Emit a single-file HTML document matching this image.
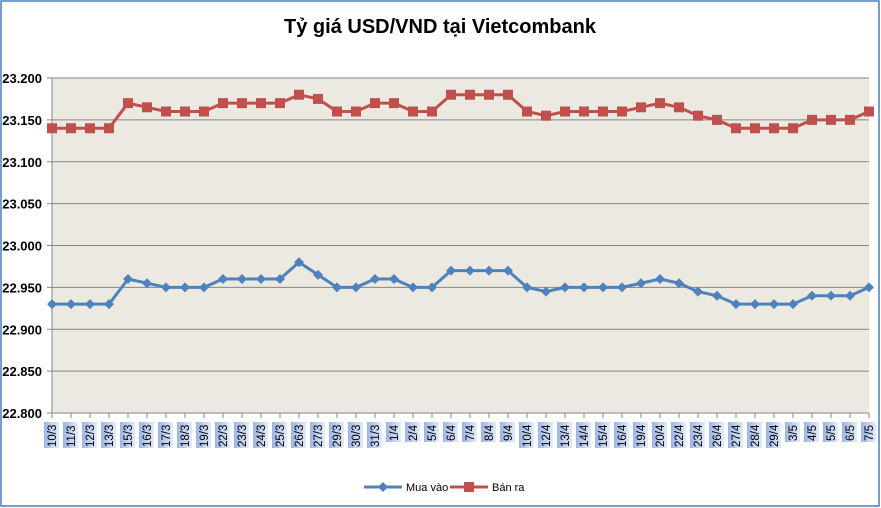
<!DOCTYPE html>
<html><head><meta charset="utf-8"><style>
html,body{margin:0;padding:0;background:#fff;}
svg{display:block;font-family:"Liberation Sans",sans-serif;}
</style></head><body>
<svg id="c" width="881" height="508" xmlns="http://www.w3.org/2000/svg">
<defs>
<linearGradient id="lg" x1="0" x2="1" y1="0" y2="0">
<stop offset="0" stop-color="#9db4e4"/><stop offset="1" stop-color="#e4ecfa"/>
</linearGradient>
</defs>
<rect x="1" y="1" width="878" height="505" fill="#fff" stroke="#4a7ebb" stroke-width="1.5"/>
<text x="440" y="33" text-anchor="middle" font-size="20" font-weight="bold" fill="#000">Tỷ giá USD/VND tại Vietcombank</text>
<rect x="52" y="78" width="817" height="335" fill="#ece9e0"/>
<g id="g"></g>
</svg>
<script>
var labs="10/3 11/3 12/3 13/3 15/3 16/3 17/3 18/3 19/3 22/3 23/3 24/3 25/3 26/3 27/3 29/3 30/3 31/3 1/4 2/4 5/4 6/4 7/4 8/4 9/4 10/4 12/4 13/4 14/4 15/4 16/4 19/4 20/4 22/4 23/4 26/4 27/4 28/4 29/4 3/5 4/5 5/5 6/5 7/5".split(" ");
var sell=[23140,23140,23140,23140,23170,23165,23160,23160,23160,23170,23170,23170,23170,23180,23175,23160,23160,23170,23170,23160,23160,23180,23180,23180,23180,23160,23155,23160,23160,23160,23160,23165,23170,23165,23155,23150,23140,23140,23140,23140,23150,23150,23150,23160];
var buy=[22930,22930,22930,22930,22960,22955,22950,22950,22950,22960,22960,22960,22960,22980,22965,22950,22950,22960,22960,22950,22950,22970,22970,22970,22970,22950,22945,22950,22950,22950,22950,22955,22960,22955,22945,22940,22930,22930,22930,22930,22940,22940,22940,22950];
var X0=52,X1=869,Y0=78,Y1=413,n=44,dx=(X1-X0)/(n-1);
function y(v){return Y1-(v-22800)/400*(Y1-Y0);}
var s="";
for(var i=0;i<=8;i++){var v=22800+i*50,yy=y(v);
 if(i>0)s+='<line x1="'+X0+'" x2="'+X1+'" y1="'+yy+'" y2="'+yy+'" stroke="#868686" stroke-width="1"/>';
 s+='<line x1="'+(X0-5)+'" x2="'+X0+'" y1="'+yy+'" y2="'+yy+'" stroke="#868686"/>';
 s+='<text x="42" y="'+(yy+5)+'" text-anchor="end" font-size="13" font-weight="bold">'+(v/1000).toFixed(3)+'</text>';}
s+='<line x1="'+X0+'" x2="'+X0+'" y1="'+Y0+'" y2="'+Y1+'" stroke="#868686"/>';
s+='<line x1="'+X0+'" x2="'+X1+'" y1="'+Y1+'" y2="'+Y1+'" stroke="#868686"/>';
for(var i=0;i<n;i++){var x=X0+i*dx;
 s+='<line x1="'+x+'" x2="'+x+'" y1="'+Y1+'" y2="'+(Y1+5)+'" stroke="#868686"/>';
 var L=labs[i],h=L.length*6+2;
 s+='<rect x="'+(x-8)+'" y="422" width="15" height="'+h+'" fill="url(#lg)"/>';
 s+='<text transform="translate('+(x+4)+','+(422+h-1)+') rotate(-90)" font-size="11.5">'+L+'</text>';}
function line(d,col,mk){var p=d.map(function(v,i){return (X0+i*dx).toFixed(1)+','+y(v).toFixed(1)}).join(' ');
 var r='<polyline points="'+p+'" fill="none" stroke="'+col+'" stroke-width="3"/>';
 d.forEach(function(v,i){var x=X0+i*dx,yy=y(v);
  if(mk=="s")r+='<rect x="'+(x-5)+'" y="'+(yy-5)+'" width="10" height="10" fill="'+col+'"/>';
  else r+='<polygon points="'+x+','+(yy-5)+' '+(x+5)+','+yy+' '+x+','+(yy+5)+' '+(x-5)+','+yy+'" fill="'+col+'"/>';});
 return r;}
s+=line(buy,"#4f81bd","d");
s+=line(sell,"#c0504d","s");
s+='<line x1="364" x2="402" y1="487" y2="487" stroke="#4f81bd" stroke-width="3"/><polygon points="383,482 388,487 383,492 378,487" fill="#4f81bd"/>';
s+='<text x="406" y="491" font-size="11">Mua vào</text>';
s+='<line x1="450" x2="488" y1="487" y2="487" stroke="#c0504d" stroke-width="3"/><rect x="464" y="482" width="10" height="10" fill="#c0504d"/>';
s+='<text x="492" y="491" font-size="11">Bán ra</text>';
document.getElementById("g").innerHTML=s;
</script>
</body></html>
